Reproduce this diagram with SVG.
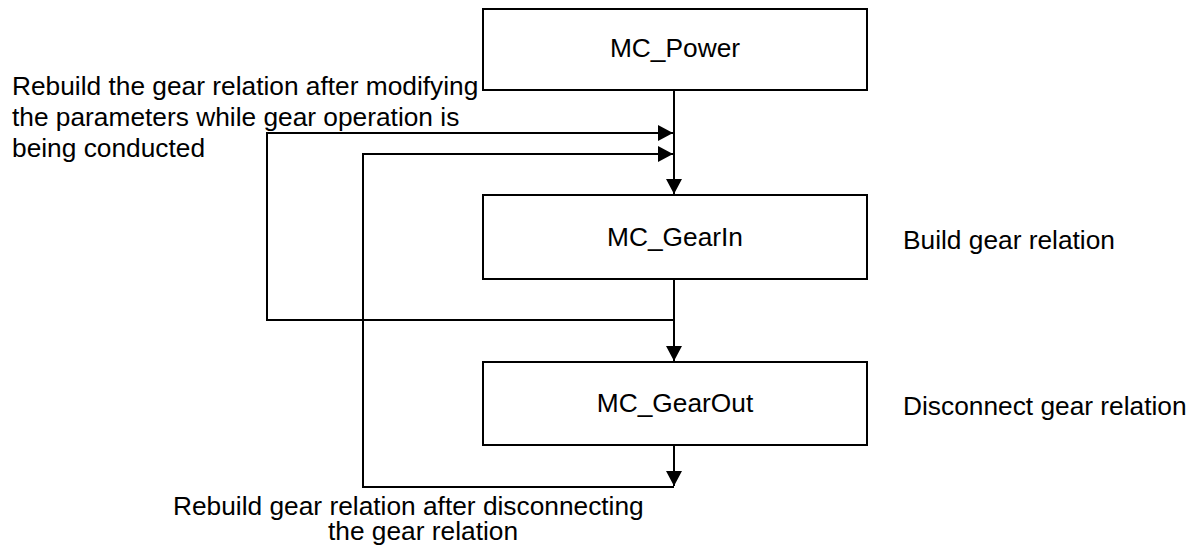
<svg xmlns="http://www.w3.org/2000/svg" width="1198" height="551" viewBox="0 0 1198 551">
<defs>
<style>
.box{fill:#fff;stroke:#000;stroke-width:2}
.t{font-family:"Liberation Sans",Arial,sans-serif;font-size:26.3px;fill:#000}
.c{text-anchor:middle}
.ln{fill:none;stroke:#000;stroke-width:2}
</style>
<marker id="ah" markerWidth="16" markerHeight="16" viewBox="0 0 16 16" refX="15" refY="8" orient="auto" markerUnits="userSpaceOnUse">
<path d="M0,0 L15,8 L0,16 Z" fill="#000"/>
</marker>
</defs>
<rect width="1198" height="551" fill="#fff"/>
<g id="connectors">
<path class="ln" d="M674,90 V194" marker-end="url(#ah)"/>
<path class="ln" d="M674,279 V361" marker-end="url(#ah)"/>
<path class="ln" d="M674,445 V486" marker-end="url(#ah)"/>
<path class="ln" d="M674,320 H267 V133 H673" marker-end="url(#ah)"/>
<path class="ln" d="M674,487 H363 V154 H673" marker-end="url(#ah)"/>
</g>
<g id="power">
<rect class="box" x="483" y="9" width="384" height="81"/>
<text class="t c" x="675" y="57">MC_Power</text>
</g>
<g id="gearin">
<rect class="box" x="483" y="195" width="384" height="84"/>
<text class="t c" x="675" y="246">MC_GearIn</text>
</g>
<g id="gearout">
<rect class="box" x="483" y="362" width="384" height="83"/>
<text class="t c" x="675" y="412">MC_GearOut</text>
</g>
<g id="labels">
<text class="t" x="12" y="95">Rebuild the gear relation after modifying</text>
<text class="t" x="12" y="126">the parameters while gear operation is</text>
<text class="t" x="12" y="157">being conducted</text>
<text class="t" x="903" y="249">Build gear relation</text>
<text class="t" x="903" y="415">Disconnect gear relation</text>
<text class="t" x="173" y="515">Rebuild gear relation after disconnecting</text>
<text class="t" x="328" y="540">the gear relation</text>
</g>
</svg>
